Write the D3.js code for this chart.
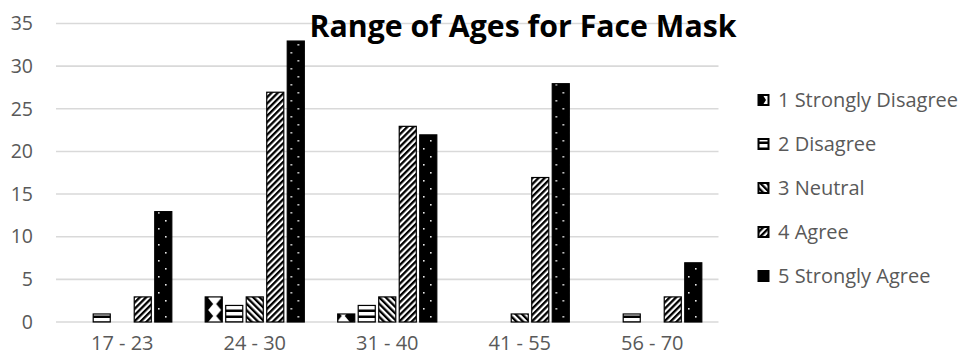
<!DOCTYPE html>
<html>
<head>
<meta charset="utf-8">
<script src="https://cdn.jsdelivr.net/npm/d3@7"></script>
<style>
  html, body { margin: 0; padding: 0; background: #fff; }
  svg { display: block; }
  text { font-family: "Open Sans", "Liberation Sans", sans-serif; }
</style>
</head>
<body>
<svg id="chart" width="961" height="363"></svg>
<script>
// Survey responses per age range
const ageRanges = ["17 - 23", "24 - 30", "31 - 40", "41 - 55", "56 - 70"];
const seriesNames = ["1 Strongly Disagree", "2 Disagree", "3 Neutral", "4 Agree", "5 Strongly Agree"];
const stronglyDisagree = [0, 3, 1, 0, 0];
const disagree         = [1, 2, 2, 0, 1];
const neutral          = [0, 3, 3, 1, 0];
const agree            = [3, 27, 23, 17, 3];
const stronglyAgree    = [13, 33, 22, 28, 7];
const yTicks = [0, 5, 10, 15, 20, 25, 30, 35];
const titleText = "Range of Ages for Face Mask";

const seriesValues = [stronglyDisagree, disagree, neutral, agree, stronglyAgree];

const svg = d3.select("#chart");
const defs = svg.append("defs");

// Scales
const x0 = d3.scaleBand().domain(ageRanges).range([56, 718.5]).paddingInner(0).paddingOuter(0);
const x1 = d3.scaleBand().domain(d3.range(seriesNames.length))
  .range([16.2, x0.bandwidth() - 16.2]).paddingInner(0.12);
const y = d3.scaleLinear().domain([0, 35]).range([322, 23.5]);

// Hatch / texture fills, one per response level
function stripePattern(id, period, black, angle) {
  const p = defs.append("pattern")
    .attr("id", id).attr("patternUnits", "userSpaceOnUse")
    .attr("width", period).attr("height", period)
    .attr("patternTransform", `rotate(${angle})`);
  p.append("rect").attr("width", period).attr("height", period).attr("fill", "#fff");
  p.append("rect").attr("width", black).attr("height", period).attr("fill", "#000");
}

// "Strongly disagree" texture: notches on both edges, anchored to each bar
ageRanges.forEach((c, i) => {
  const bx = x0(c) + x1(0) + 0.5;
  const bw = x1.bandwidth() - 1;
  const p = defs.append("pattern").attr("id", `pat0-${i}`)
    .attr("patternUnits", "userSpaceOnUse")
    .attr("x", bx).attr("y", y(0) - 12)
    .attr("width", bw).attr("height", 12);
  p.append("rect").attr("width", bw).attr("height", 12).attr("fill", "#fff");
  p.append("path").attr("d", `M0,0 L2,0 L7,6 L2,12 L0,12 Z`).attr("fill", "#000");
  p.append("path").attr("d", `M${bw},0 L${bw - 2},0 L${bw - 7},6 L${bw - 2},12 L${bw},12 Z`).attr("fill", "#000");
});

const p2 = defs.append("pattern").attr("id", "pat1")
  .attr("patternUnits", "userSpaceOnUse").attr("width", 8).attr("height", 6);
p2.append("rect").attr("width", 8).attr("height", 6).attr("fill", "#fff");
p2.append("rect").attr("y", 3.5).attr("width", 8).attr("height", 2.5).attr("fill", "#000");

stripePattern("pat2", 4.6, 2.3, -45);
stripePattern("pat3", 4.4, 2.3, 45);

const p5 = defs.append("pattern").attr("id", "pat4")
  .attr("patternUnits", "userSpaceOnUse").attr("width", 14).attr("height", 16);
p5.append("rect").attr("width", 14).attr("height", 16).attr("fill", "#000");
p5.append("rect").attr("x", 4).attr("y", 4).attr("width", 1.6).attr("height", 1.6).attr("fill", "#e8e8e8");
p5.append("rect").attr("x", 11).attr("y", 12).attr("width", 1.6).attr("height", 1.6).attr("fill", "#e8e8e8");

// Gridlines
svg.append("g").selectAll("line").data(yTicks).join("line")
  .attr("x1", 56).attr("x2", 718.5)
  .attr("y1", d => y(d)).attr("y2", d => y(d))
  .attr("stroke", "#d9d9d9").attr("stroke-width", 1.6);

// Y axis labels
const yAxis = svg.append("g").attr("transform", "translate(33,0)")
  .call(d3.axisLeft(y).tickValues(yTicks).tickSize(0).tickPadding(0));
yAxis.select(".domain").remove();
yAxis.selectAll("text")
  .attr("fill", "#595959").style("font-size", "19.5px")
  .style("font-family", "'Open Sans', sans-serif");

// X axis labels
const xAxis = svg.append("g").attr("transform", "translate(0,336)")
  .call(d3.axisBottom(x0).tickSize(0).tickPadding(0));
xAxis.select(".domain").remove();
xAxis.selectAll("text")
  .attr("fill", "#595959").style("font-size", "20px")
  .style("font-family", "'Open Sans', sans-serif");

// Bars
const groups = svg.append("g").selectAll("g").data(ageRanges).join("g")
  .attr("transform", d => `translate(${x0(d)},0)`);
groups.selectAll("rect")
  .data((d, i) => seriesValues.map((vals, s) => ({ s, i, v: vals[i] })).filter(e => e.v > 0))
  .join("rect")
  .attr("x", d => x1(d.s) + 0.5)
  .attr("width", x1.bandwidth() - 1)
  .attr("y", d => y(d.v) + 0.5)
  .attr("height", d => y(0) - y(d.v) - 0.5)
  .attr("fill", d => d.s === 0 ? `url(#pat0-${d.i})` : `url(#pat${d.s})`)
  .attr("stroke", "#000").attr("stroke-width", 1.2);

// Title
const title = svg.append("text")
  .attr("x", 523).attr("y", 37).attr("text-anchor", "middle")
  .attr("fill", "#000").style("font-weight", "bold").style("font-size", "28px")
  .text(titleText);
const tw = title.node().getComputedTextLength();
title.style("font-size", (28 * 427 / tw).toFixed(2) + "px");

// Legend
const legendY = d3.scalePoint().domain(d3.range(seriesNames.length)).range([100, 276]);
const legend = svg.append("g").selectAll("g").data(seriesNames).join("g")
  .attr("transform", (d, i) => `translate(757,${legendY(i)})`);
legend.append("rect")
  .attr("x", 0.5).attr("y", -6).attr("width", 12).attr("height", 12)
  .attr("fill", "#000");
legend.filter((d, i) => i > 0).append("rect")
  .attr("x", 2.5).attr("y", -4).attr("width", 8).attr("height", 8)
  .attr("fill", (d, i) => `url(#pat${i + 1})`);
legend.filter((d, i) => i === 0).append("path")
  .attr("d", "M6.5,-4 L10.5,-4 L10.5,4 L6.5,4 L9,0 Z")
  .attr("fill", "#fff");
const legendText = legend.append("text")
  .attr("x", 21).attr("dy", "0.35em")
  .attr("fill", "#595959").style("font-size", "19px")
  .text(d => d);
const lw = legendText.filter((d, i) => i === 0).node().getComputedTextLength();
legendText.style("font-size", Math.min(21, 19 * 180 / lw).toFixed(2) + "px");
</script>
</body>
</html>
